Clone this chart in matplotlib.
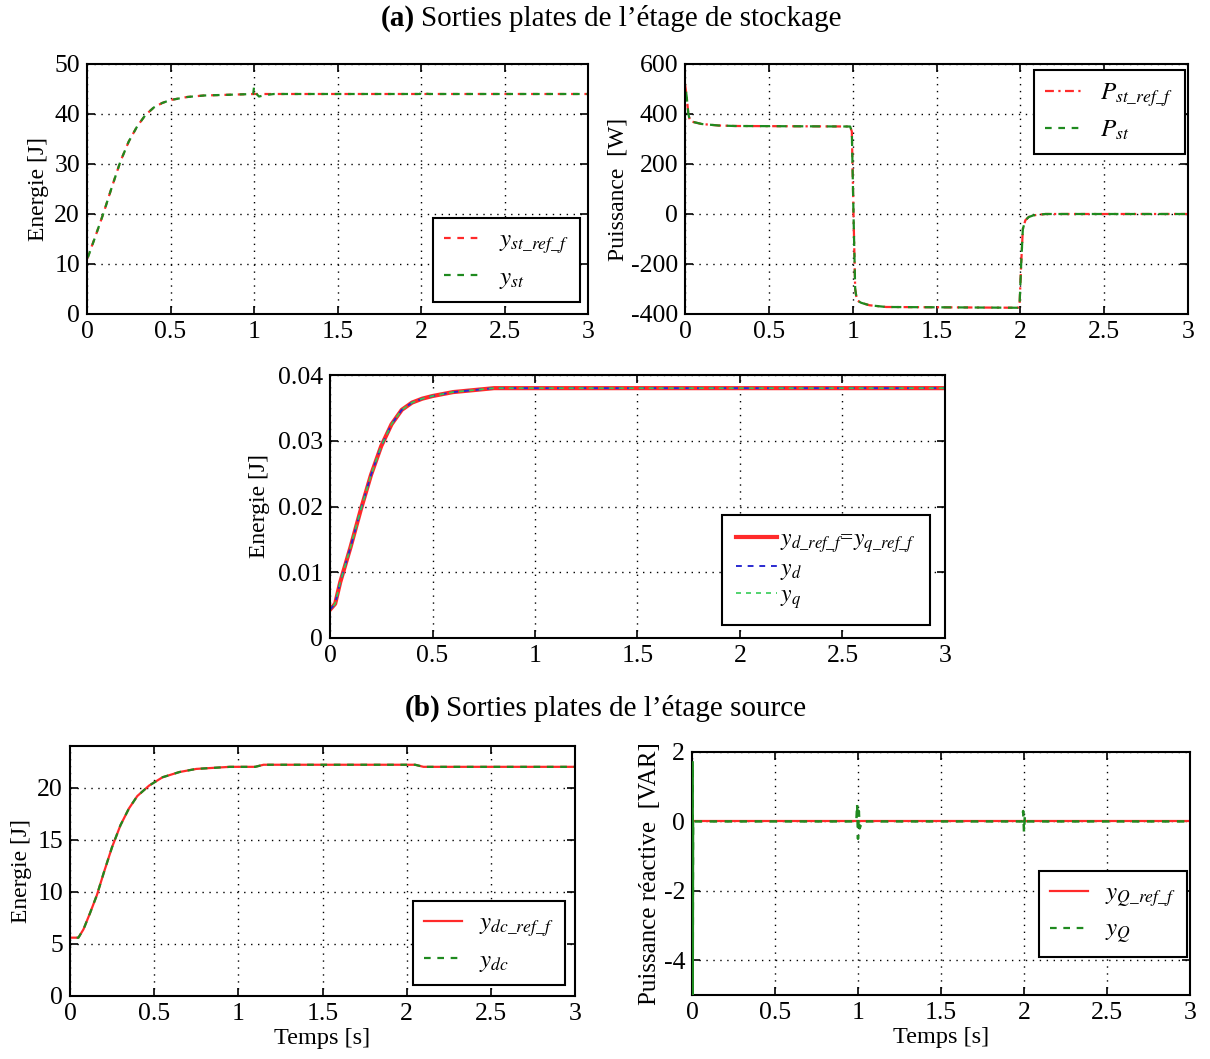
import numpy as np
import matplotlib
matplotlib.use("Agg")
import matplotlib.pyplot as plt
from matplotlib.lines import Line2D
from matplotlib.ticker import FormatStrFormatter

plt.rcParams["font.family"] = ["Liberation Serif", "DejaVu Serif"]
plt.rcParams["mathtext.fontset"] = "stix"
plt.rcParams["font.size"] = 15

# --- storage stage: energy y_st
t_st_ref = [0, 0.05, 0.1, 0.15, 0.2, 0.25, 0.3, 0.35, 0.4, 0.45, 0.5, 0.6, 0.7, 0.8, 1.0, 3.0]
y_st_ref = [11, 15.5, 20.3, 25.5, 30.5, 34.5, 37.5, 39.8, 41.3, 42.2, 42.8, 43.4, 43.7, 43.8, 44, 44]
t_st = [0, 0.002, 0.05, 0.1, 0.15, 0.2, 0.25, 0.3, 0.35, 0.4, 0.45, 0.5, 0.6, 0.7, 0.8,
        0.995, 1.0, 1.01, 1.03, 1.07, 1.12, 1.995, 2.0, 2.02, 2.05, 3.0]
y_st = [10, 11, 15.5, 20.3, 25.5, 30.5, 34.5, 37.5, 39.8, 41.3, 42.2, 42.8, 43.4, 43.7, 43.8,
        44, 45.3, 44.2, 43.5, 43.8, 44, 44, 44.4, 44.1, 44, 44]

# --- storage stage: power P_st
t_p = [0, 0.01, 0.02, 0.03, 0.05, 0.1, 0.2, 0.3, 0.985, 0.995, 1.005, 1.015, 1.025, 1.05,
       1.1, 1.2, 1.985, 1.995, 2.005, 2.015, 2.03, 2.05, 2.08, 2.15, 3.0]
p_st_ref = [520, 470, 400, 372, 368, 360, 354, 352, 350, 330, 0, -300, -345, -355,
            -365, -372, -375, -370, -200, -60, -25, -12, -5, 0, 0]
p_st = [520, 470, 400, 372, 368, 360, 354, 352, 350, 330, 0, -300, -345, -355,
        -365, -372, -375, -370, -200, -60, -25, -12, -5, 0, 0]

# --- storage stage: y_d, y_q
t_d = [0, 0.025, 0.05, 0.1, 0.15, 0.2, 0.25, 0.3, 0.35, 0.4, 0.45, 0.5, 0.6, 0.7, 0.8, 3.0]
y_d = [0.0043, 0.0052, 0.0085, 0.0138, 0.0195, 0.0248, 0.0292, 0.0325, 0.0347, 0.0358,
       0.0364, 0.0368, 0.0374, 0.0377, 0.0380, 0.0380]

# --- source stage: y_dc
t_dc = [0, 0.05, 0.08, 0.12, 0.16, 0.2, 0.25, 0.3, 0.35, 0.4, 0.47, 0.55, 0.65, 0.75,
        0.95, 1.1, 1.15, 2.05, 2.1, 3.0]
y_dc = [5.6, 5.6, 6.4, 8.0, 9.7, 11.8, 14.3, 16.4, 18.0, 19.2, 20.2, 21.0, 21.5, 21.8,
        22.0, 22.0, 22.2, 22.2, 22.0, 22.0]

# --- source stage: y_Q
t_q_ref = [0, 3.0]
y_q_ref = [0, 0]
t_q = [0.004, 0.004, 0.006, 0.01, 0.02, 0.99, 0.995, 1.0,
       1.005, 1.01, 1.025, 1.99, 1.995, 2.0, 2.005, 2.01, 3.0]
y_q = [1.7, -5.5, 0, 0, 0, 0, 0.5, -0.5,
       0.3, -0.2, 0, 0, 0.3, -0.3, 0.15, 0, 0]

xticks = [0, 0.5, 1, 1.5, 2, 2.5, 3]
red = "#ff2a2a"
green = "#1f8a1f"
blue = "#2a2ad0"
light_green = "#33cc55"
dash = (0, (3, 3))
dash_off = (3, (3, 3))
dashdot = (0, (4, 2, 1, 2))

W, H = 1210, 1059
fig = plt.figure(figsize=(W / 100, H / 100), dpi=100)


def rect(l, t, r, b):
    return [l / W, 1 - b / H, (r - l) / W, (b - t) / H]


def style(ax, ylim, yticks):
    ax.set_xlim(0, 3)
    ax.set_ylim(*ylim)
    ax.set_xticks(xticks)
    ax.set_yticks(yticks)
    ax.xaxis.set_major_formatter(FormatStrFormatter("%g"))
    ax.yaxis.set_major_formatter(FormatStrFormatter("%g"))
    ax.tick_params(direction="in", length=6, width=1.2, top=True, right=True,
                   labelsize=18.5, pad=5)
    ax.grid(True, color="black", linestyle=(0, (1, 4)), linewidth=1)
    for s in ax.spines.values():
        s.set_linewidth(1.5)


def legend(ax, handles, labels, fontsize=18, **kw):
    opts = dict(fancybox=False, edgecolor="black", framealpha=1, fontsize=fontsize,
                handlelength=1.5, handletextpad=0.7, borderpad=0.45, labelspacing=0.4,
                borderaxespad=0)
    opts.update(kw)
    lg = ax.legend(handles, labels, **opts)
    lg.get_frame().set_linewidth(1.5)
    return lg


def h(color, ls, lw=1.6):
    return Line2D([], [], color=color, ls=ls, lw=lw)


# (a) top-left
ax1 = fig.add_axes(rect(87, 64, 588, 314))
ax1.plot(t_st_ref, y_st_ref, color=red, lw=1.6, ls=dash)
ax1.plot(t_st, y_st, color=green, lw=1.6, ls=dash_off)
style(ax1, (0, 50), [0, 10, 20, 30, 40, 50])
ax1.set_ylabel("Energie [J]", fontsize=17, labelpad=4)
legend(ax1, [h(red, dash), h(green, dash)], [r"$y_{st\_ref\_f}$", r"$y_{st}$"],
       loc="lower right", bbox_to_anchor=(0.984, 0.048))

# (a) top-right
ax2 = fig.add_axes(rect(685, 64, 1188, 314))
ax2.plot(t_p, p_st_ref, color=red, lw=1.6, ls=dashdot)
ax2.plot(t_p, p_st, color=green, lw=1.6, ls=(4, (4.5, 3)))
style(ax2, (-400, 600), [-400, -200, 0, 200, 400, 600])
ax2.set_ylabel("Puissance  [W]", fontsize=17, labelpad=2)
legend(ax2, [h(red, dashdot), h(green, dash)], [r"$P_{st\_ref\_f}$", r"$P_{st}$"],
       loc="upper right", bbox_to_anchor=(0.994, 0.976))

# (a) middle
ax3 = fig.add_axes(rect(330, 375, 945, 638))
ax3.plot(t_d, y_d, color=red, lw=3)
ax3.plot(t_d, y_d, color=blue, lw=1.4, ls=dash)
ax3.plot(t_d, y_d, color=light_green, lw=1.2, ls=dash_off)
style(ax3, (0, 0.04), [0, 0.01, 0.02, 0.03, 0.04])
ax3.set_ylabel("Energie [J]", fontsize=17, labelpad=6)
legend(ax3, [h(red, "-", 3), h(blue, dash, 1.4), h(light_green, dash, 1.2)],
       [r"$y_{d\_ref\_f}$=$y_{q\_ref\_f}$", r"$y_d$", r"$y_q$"], fontsize=17,
       loc="lower right", bbox_to_anchor=(0.976, 0.049),
       handlelength=1.7, handletextpad=0.15, labelspacing=0.15, borderpad=0.6)

# (b) bottom-left
ax4 = fig.add_axes(rect(70, 746, 575, 996))
ax4.plot(t_dc, y_dc, color=red, lw=1.6)
ax4.plot(t_dc, y_dc, color=green, lw=1.6, ls=dash_off)
style(ax4, (0, 24), [0, 5, 10, 15, 20])
ax4.set_ylabel("Energie [J]", fontsize=17, labelpad=4)
ax4.set_xlabel("Temps [s]", fontsize=17.5, labelpad=2)
legend(ax4, [h(red, "-"), h(green, dash)], [r"$y_{dc\_ref\_f}$", r"$y_{dc}$"],
       loc="lower right", bbox_to_anchor=(0.980, 0.044))

# (b) bottom-right
ax5 = fig.add_axes(rect(692, 752, 1190, 995))
ax5.plot(t_q_ref, y_q_ref, color=red, lw=1.6)
ax5.plot(t_q, y_q, color=green, lw=1.8, ls=dash_off, zorder=3)
ax5.plot(t_q[:3], y_q[:3], color=green, lw=1.8, zorder=3)
style(ax5, (-5, 2), [-4, -2, 0, 2])
ax5.set_ylabel("Puissance réactive  [VAR]", fontsize=18, labelpad=2)
ax5.set_xlabel("Temps [s]", fontsize=17.5, labelpad=2)
legend(ax5, [h(red, "-"), h(green, dash)], [r"$y_{Q\_ref\_f}$", r"$y_{Q}$"],
       loc="lower right", bbox_to_anchor=(0.994, 0.156))

# section titles
fig.text(415 / W, 1 - 19 / H, "(a)", fontsize=21, fontweight="bold", ha="right", va="center")
fig.text(421 / W, 1 - 19 / H, "Sorties plates de l\u2019étage de stockage", fontsize=21,
         ha="left", va="center")
fig.text(440 / W, 1 - 708 / H, "(b)", fontsize=21, fontweight="bold", ha="right", va="center")
fig.text(446 / W, 1 - 708 / H, "Sorties plates de l\u2019étage source", fontsize=21,
         ha="left", va="center")

fig.savefig("out.png", dpi=100)
